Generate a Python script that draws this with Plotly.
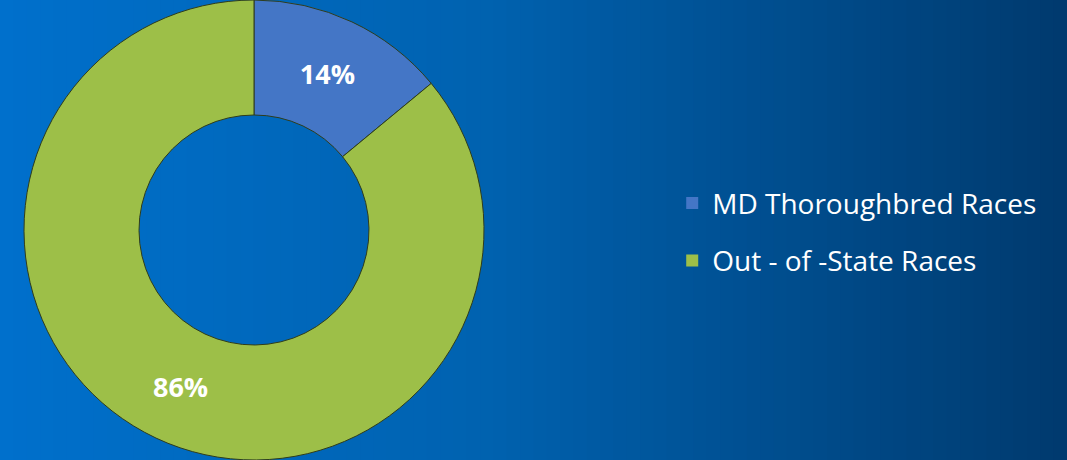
import plotly.graph_objects as go

# donut data
labels = ['MD Thoroughbred Races', 'Out - of -State Races']
values = [14, 86]
colors = ['#4476C6', '#9DBF48']

# background gradient stops (paper x fraction, rgb)
bg_stops = [(0.0, (0, 112, 204)), (0.45, (0, 98, 176)), (1.0, (0, 58, 110))]


def bg_color(t):
    for (t0, c0), (t1, c1) in zip(bg_stops[:-1], bg_stops[1:]):
        if t0 <= t <= t1:
            f = (t - t0) / (t1 - t0)
            return 'rgb(%d,%d,%d)' % tuple(round(a + (b - a) * f) for a, b in zip(c0, c1))
    return 'rgb(%d,%d,%d)' % bg_stops[-1][1]


n_strips = 80
shapes = []
for i in range(n_strips):
    shapes.append(dict(type='rect', xref='paper', yref='paper',
                       x0=i / n_strips, x1=(i + 1) / n_strips + 0.002, y0=0, y1=1,
                       fillcolor=bg_color((i + 0.5) / n_strips),
                       line=dict(width=0), layer='below'))

fig = go.Figure()
fig.add_trace(go.Pie(
    labels=labels, values=values, hole=0.5, sort=False,
    direction='clockwise', rotation=0,
    marker=dict(colors=colors, line=dict(color='#2f3d1c', width=1)),
    textinfo='percent', textposition='inside', insidetextorientation='horizontal',
    textfont=dict(family='Open Sans', size=27, color='white', weight='bold'),
    domain=dict(x=[0.0225, 0.4536], y=[0, 1]),
    showlegend=False,
))

# legend entries, one group each so the rows can be spaced apart
for lab, col in zip(labels, colors):
    fig.add_trace(go.Scatter(
        x=[None], y=[None], mode='markers', name=lab, legendgroup=lab,
        marker=dict(symbol='square', size=12, color=col),
    ))

fig.update_layout(
    width=1067, height=460,
    margin=dict(l=0, r=0, t=0, b=0),
    paper_bgcolor='#0058A0', plot_bgcolor='rgba(0,0,0,0)',
    shapes=shapes,
    xaxis=dict(visible=False), yaxis=dict(visible=False),
    legend=dict(x=0.63, y=0.496, xanchor='left', yanchor='middle',
                font=dict(family='Open Sans', size=28, color='white'),
                tracegroupgap=18, bgcolor='rgba(0,0,0,0)'),
)

fig.write_html("out.html", config={'displayModeBar': False},
               post_script="document.body.style.margin='0';document.body.style.overflow='hidden';")
